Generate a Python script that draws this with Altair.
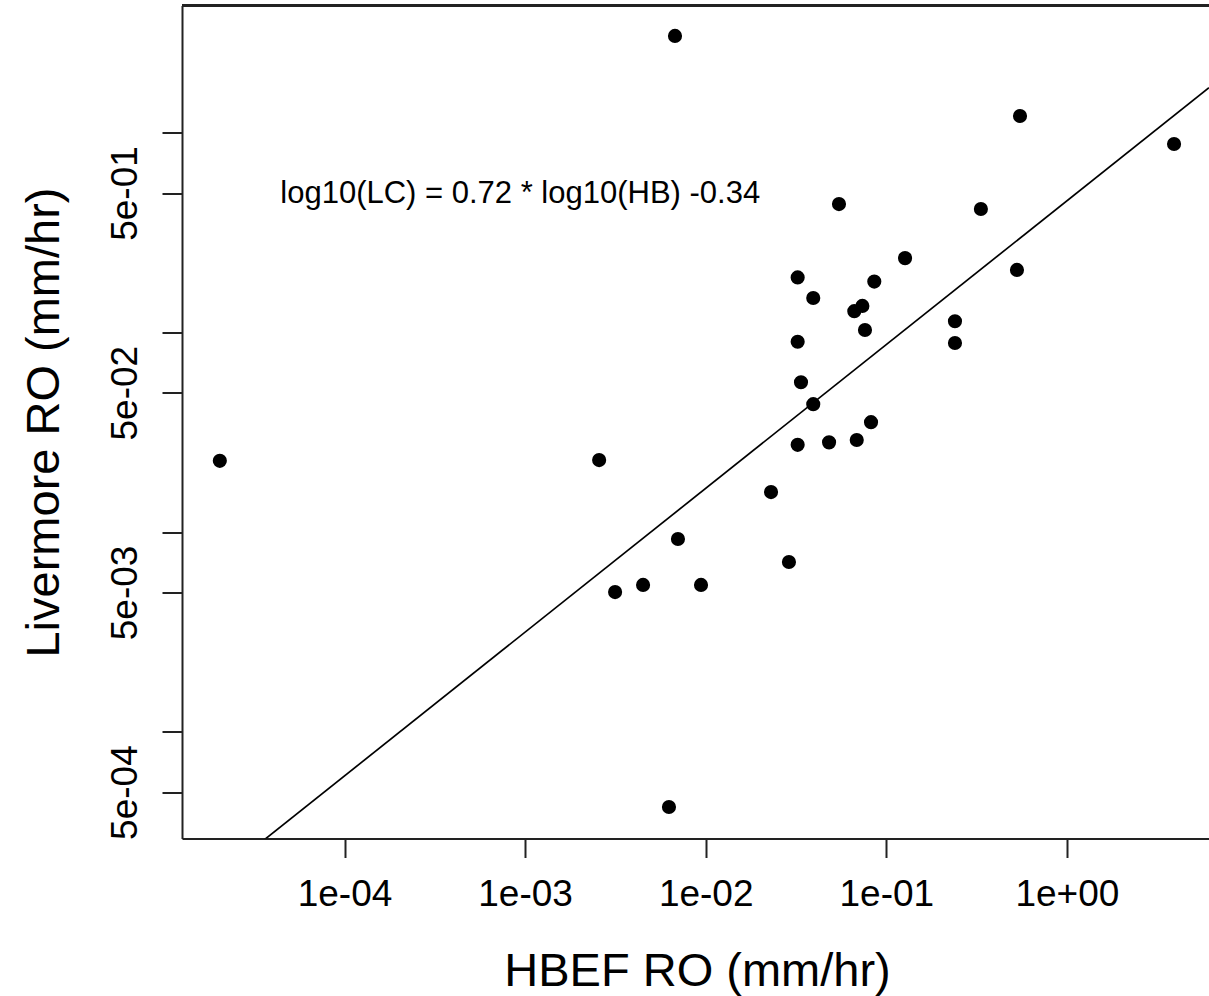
import altair as alt
import pandas as pd

# ---- data ----
hbef_ro = [2.04e-5, 6.76e-3, 2.57e-3, 3.15e-3, 4.50e-3, 7.02e-3, 9.42e-3, 6.26e-3,
           0.0230, 0.0289, 0.0323, 0.0394, 0.0323, 0.0337, 0.0394, 0.0323,
           0.0482, 0.0547, 0.0665, 0.0737, 0.0762, 0.0858, 0.0686, 0.0823,
           0.127, 0.240, 0.240, 0.334, 0.550, 0.529, 3.92]
livermore_ro = [0.0228, 3.06, 0.0230, 5.02e-3, 5.45e-3, 9.26e-3, 5.45e-3, 4.21e-4,
                0.0159, 7.10e-3, 0.189, 0.149, 0.0900, 0.0564, 0.0438, 0.0274,
                0.0282, 0.440, 0.128, 0.136, 0.103, 0.180, 0.0290, 0.0356,
                0.236, 0.114, 0.0887, 0.416, 1.215, 0.206, 0.880]

fit_slope = 0.72
fit_intercept = -0.34
fit_label = "log10(LC) = 0.72 * log10(HB) -0.34"
label_x = 9.4e-4
label_y = 0.4456

x_ticks = [1e-4, 1e-3, 1e-2, 1e-1, 1.0]
x_tick_labels = ["1e-04", "1e-03", "1e-02", "1e-01", "1e+00"]
y_ticks = [5e-4, 1e-3, 5e-3, 1e-2, 5e-2, 1e-1, 5e-1, 1.0]
y_tick_labels = ["5e-04", "", "5e-03", "", "5e-02", "", "5e-01", ""]

x_domain = [1.2595e-5, 6.121]
y_domain = [2.928e-4, 4.345]

FONT = "Liberation Sans"
W, H = 1027, 833


def label_expr(values, labels):
    expr = "''"
    for v, lab in zip(reversed(values), reversed(labels)):
        expr = f"abs(log(datum.value) - log({v})) < 0.01 ? '{lab}' : ({expr})"
    return expr


pts = pd.DataFrame({"hb": hbef_ro, "lc": livermore_ro})
line_df = pd.DataFrame({
    "hb": x_domain,
    "lc": [10 ** (fit_slope * __import__("math").log10(v) + fit_intercept) for v in x_domain],
})
txt_df = pd.DataFrame({"hb": [label_x], "lc": [label_y], "t": [fit_label]})

xscale = alt.Scale(type="log", domain=x_domain, nice=False)
yscale = alt.Scale(type="log", domain=y_domain, nice=False)

xaxis = alt.Axis(
    values=x_ticks, labelExpr=label_expr(x_ticks, x_tick_labels),
    title="HBEF RO (mm/hr)", grid=False,
    tickSize=19, tickWidth=2, tickColor="#222", domainColor="#222", domainWidth=2,
    labelFont=FONT, labelFontSize=37, labelColor="black", labelPadding=19,
    labelBaseline="top", labelAlign="center", labelOverlap=False, labelFlush=False,
    titleFont=FONT, titleFontSize=47, titleFontWeight="normal", titleColor="black",
    titleBaseline="alphabetic", titleX=515, titleY=146.5, titleAlign="center",
)
yaxis = alt.Axis(
    values=y_ticks, labelExpr=label_expr(y_ticks, y_tick_labels),
    title="Livermore RO (mm/hr)", grid=False,
    tickSize=20, tickWidth=2, tickColor="#222", domainColor="#222", domainWidth=2,
    labelFont=FONT, labelFontSize=37, labelColor="black", labelPadding=26,
    labelAngle=270, labelAlign="center", labelBaseline="alphabetic",
    labelOverlap=False, labelFlush=False,
    titleFont=FONT, titleFontSize=47, titleFontWeight="normal", titleColor="black",
    titleAngle=270, titleBaseline="alphabetic", titleAlign="center",
    titleX=-124, titleY=416.5,
)

points = alt.Chart(pts).mark_circle(size=200, color="black", opacity=1).encode(
    x=alt.X("hb:Q", scale=xscale, axis=xaxis),
    y=alt.Y("lc:Q", scale=yscale, axis=yaxis),
)
fit = alt.Chart(line_df).mark_line(color="black", strokeWidth=1.7, clip=True).encode(
    x=alt.X("hb:Q", scale=xscale), y=alt.Y("lc:Q", scale=yscale),
)
label = alt.Chart(txt_df).mark_text(
    font=FONT, fontSize=31, color="black", align="center", baseline="alphabetic"
).encode(x=alt.X("hb:Q", scale=xscale), y=alt.Y("lc:Q", scale=yscale), text="t:N")
top_border = alt.Chart(pts).mark_rule(color="#222", strokeWidth=2).encode(
    x=alt.value(0), x2=alt.value(W), y=alt.value(0)
)

chart = alt.layer(fit, points, label, top_border).properties(
    width=W, height=H,
    autosize=alt.AutoSizeParams(type="none"),
    padding={"left": 182, "top": 5.5, "right": 0, "bottom": 157.5},
).configure_view(strokeWidth=0).configure(background="white")

chart.save("out.html", embed_options={"renderer": "svg", "actions": False})
